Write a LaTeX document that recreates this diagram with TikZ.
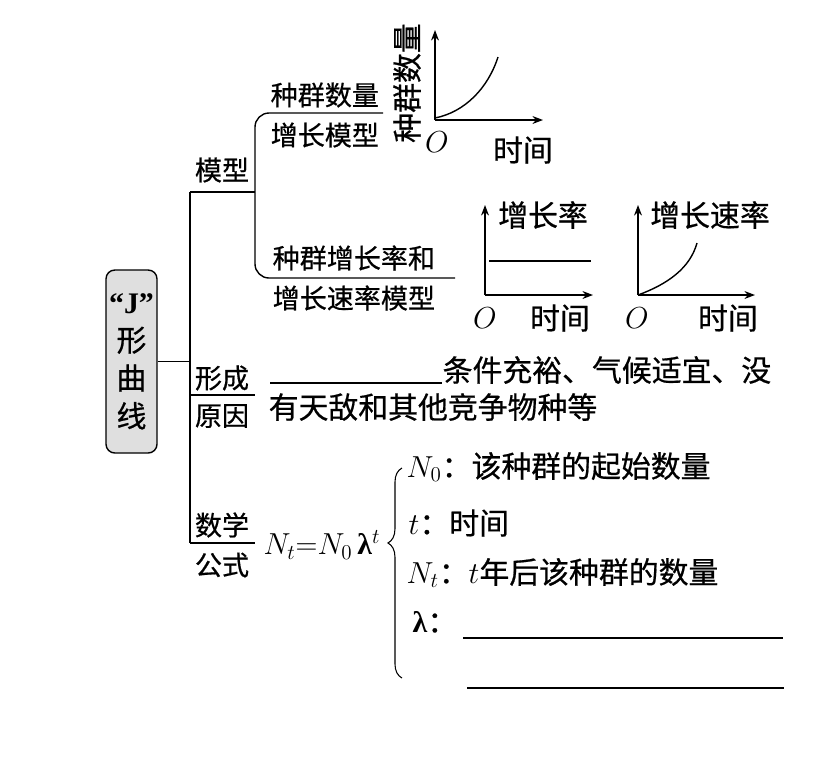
\documentclass[tikz,border=0pt]{standalone}
\usepackage{amsmath}
\usepackage{fontspec}
\setmainfont{Noto Sans CJK SC}[FakeBold=0.6]
\newfontfamily\latin{Liberation Serif}
\usetikzlibrary{arrows.meta,decorations.pathreplacing}
\tikzset{
  big/.style={font=\fontsize{17}{20}\selectfont,inner sep=0pt},
  small/.style={font=\fontsize{15.4}{18}\selectfont,inner sep=0pt},
  axis/.style={-{Stealth[length=6pt,width=4.5pt]}},
  rootbox/.style={draw,rounded corners=5pt,fill=gray!25,minimum width=1.02cm,
    minimum height=3.66cm,align=center,inner sep=0pt,
    font=\fontsize{17}{21.6}\selectfont},
}
\newcommand{\lam}{{\latin\bfseries λ}}
\begin{document}
\begin{tikzpicture}[x=0.02cm,y=-0.02cm,line width=0.8pt]
  \useasboundingbox (0,0) rectangle (837,769);

  \node[rootbox] (jcurve) at (131.5,361.5) {{\latin\bfseries “J”}\\形\\曲\\线};

  \coordinate (top) at (190,192);
  \coordinate (mid) at (190,395);
  \coordinate (bot) at (190,543);
  \coordinate (m) at (255,192);

  \draw (jcurve.east) -- (jcurve.east -| top);
  \draw (top) -- (bot);
  \draw (top) -- (m);
  \draw (mid) -- ++(65,0);
  \draw (bot) -- ++(65,0);
  \draw[rounded corners=8] (383,113) -- (255,113) -- (255,278) -- (455,278);

  \node[small] (model) at (222,170) {模型};
  \node[small] (form1) at (222,378) {形成};
  \node[small] (form2) at (222,416) {原因};
  \node[small] (math1) at (222,525) {数学};
  \node[small] (math2) at (222,565) {公式};
  \node[small,anchor=west] (qty1) at (270,95) {种群数量};
  \node[small,anchor=west] (qty2) at (270,135) {增长模型};
  \node[small,anchor=west] (rate1) at (272,258) {种群增长率和};
  \node[small,anchor=west] (rate2) at (272,298) {增长速率模型};

  \foreach \g/\ox/\oy/\xe/\ye in {a/435/120/543/30,b/485/295/593/205,c/638/295/755/205} {
    \coordinate (\g0) at (\ox,\oy);
    \draw[axis] (\g0) -- (\ox,\ye);
    \draw[axis] (\g0) -- (\xe,\oy);
  }
  \draw (435,118) .. controls (465,112) and (488,88) .. (498,57);
  \draw (489,261) -- (591,261);
  \draw (c0) .. controls (668,284) and (690,268) .. (697,243);

  \node[big,rotate=90] (ylab) at (407,83) {种群数量};
  \node[big] (oa) at (437,142) {$O$};
  \node[big] (timea) at (523,150) {时间};
  \node[big] (ylabb) at (543,215) {增长率};
  \node[big] (ob) at (485,318) {$O$};
  \node[big] (timeb) at (560,318) {时间};
  \node[big] (ylabc) at (710,215) {增长速率};
  \node[big] (oc) at (637,318) {$O$};
  \node[big] (timec) at (728,318) {时间};

  \draw (270,383) -- (442,383);
  \node[big,anchor=west] (cond1) at (442,370) {条件充裕、气候适宜、没};
  \node[big,anchor=west] (cond2) at (268,407) {有天敌和其他竞争物种等};

  \node[big] (eq) at (322,545) {$N_t{=}N_0$\,\lam$^t$};
  \draw[line width=0.6pt,decorate,decoration={brace,amplitude=8pt,aspect=0.643}]
    (402,678) -- (402,468);
  \node[big,anchor=west] (n0) at (406,467) {$N_0$：该种群的起始数量};
  \node[big,anchor=west] (tt) at (408,523) {$t$：时间};
  \node[big,anchor=west] (nt) at (406,573) {$N_t$：$t$年后该种群的数量};
  \node[big,anchor=west] (lamrow) at (412,622) {\lam：};
  \draw (463,638) -- (783,638);
  \draw (467,688) -- (784,688);
\end{tikzpicture}
\end{document}
